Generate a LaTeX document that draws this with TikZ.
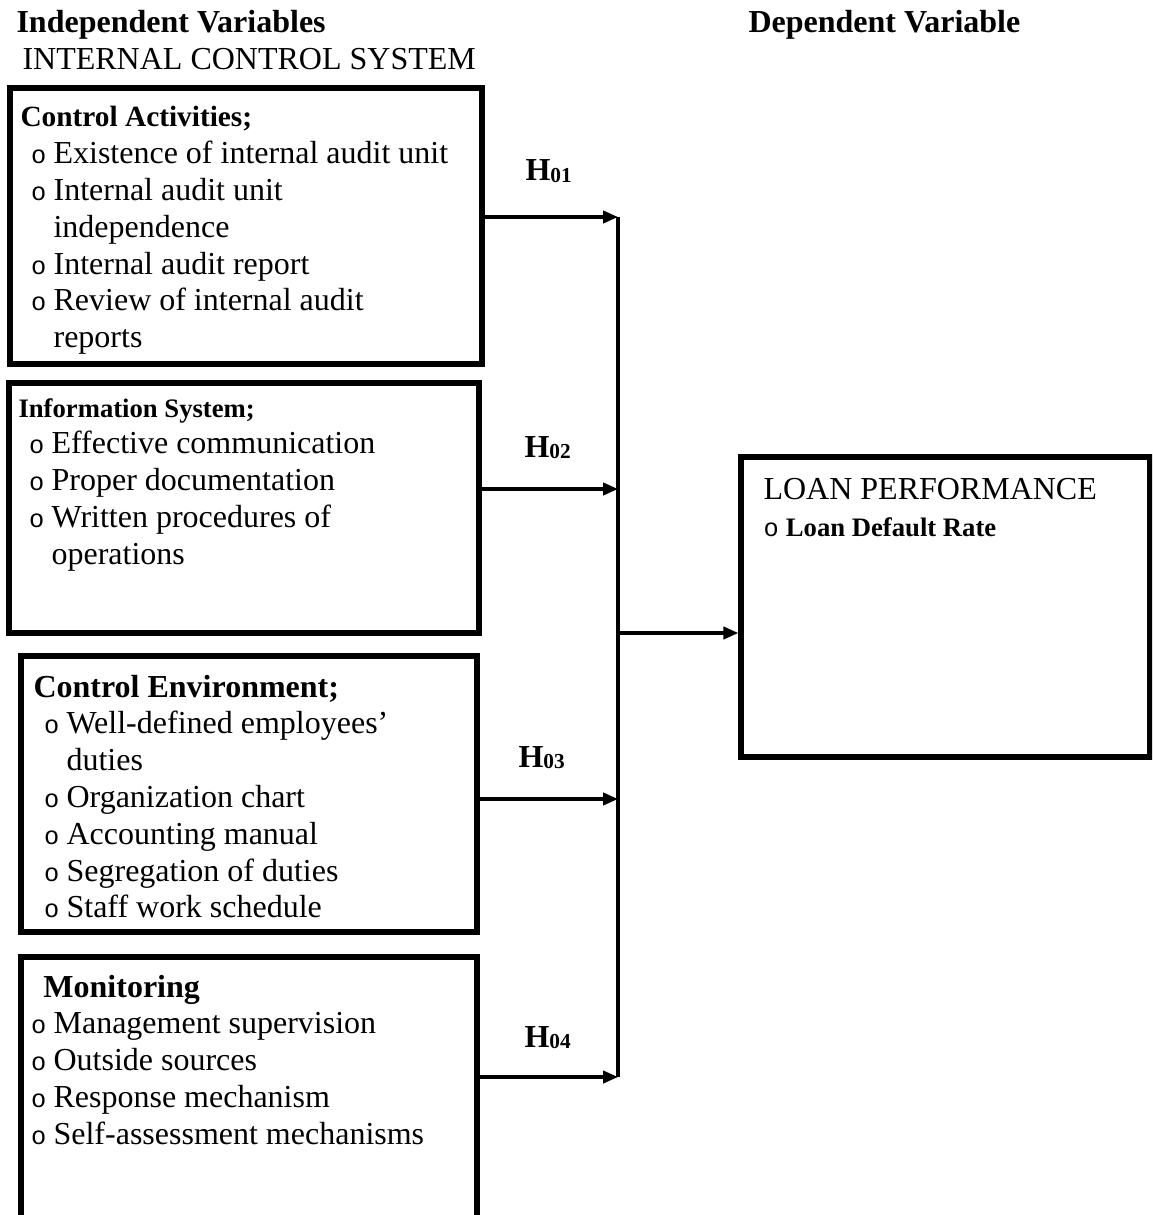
\documentclass[tikz,border=0pt]{standalone}
\usepackage{fontspec}
\setmainfont{Liberation Serif}
\newfontfamily\bulfont{Liberation Mono}
\usetikzlibrary{arrows.meta,fit}

\newcommand{\bul}{\makebox[8.4pt][l]{\bulfont\fontsize{9.5}{9}\selectfont o}}
\newcommand{\itm}[1]{\par\hspace*{4pt}\bul#1}
\newcommand{\cnt}[1]{\par\hspace*{12.4pt}#1}
\newcommand{\hyp}[1]{\textbf{H\raisebox{-0.5pt}{\fontsize{8}{8}\selectfont #1}}}

\tikzset{
  box/.style={draw, line width=2pt, inner sep=0pt},
  txt/.style={anchor=base west, inner sep=0pt, text width=175pt, align=flush left,
    font=\fontsize{12}{13.8}\selectfont},
  lbl/.style={anchor=base west, inner sep=0pt, font=\fontsize{12}{13.8}\selectfont},
  arr/.style={-{Triangle[length=5.6pt,width=4.6pt]}, line width=1.2pt},
  bus/.style={line width=1.5pt}
}

\begin{document}
\begin{tikzpicture}[x=0.375pt,y=-0.375pt]
            \clip (0,0) rectangle (1152,1215);

            % headings
            \node[lbl] (iv) at (16,33) {\bfseries Independent Variables};
            \node[lbl] (ics) at (22,70) {INTERNAL CONTROL SYSTEM};
            \node[lbl] (dv) at (748,33) {\bfseries Dependent Variable};

            % the four independent variables
            \node[box, fit={(10,88) (482,364)}] (ca) {};
            \node[txt] (ca-t) at (20,127) {{\fontsize{11}{13.8}\selectfont\bfseries Control Activities;}
                \itm{Existence of internal audit unit}
                \itm{Internal audit unit}
                \cnt{independence}
                \itm{Internal audit report}
                \itm{Review of internal audit}
                \cnt{reports}};

            \node[box, fit={(9,383) (479,633)}] (is) {};
            \node[txt] (is-t) at (18,417) {{\fontsize{10}{13.8}\selectfont\bfseries Information System;}
                \itm{Effective communication}
                \itm{Proper documentation}
                \itm{Written procedures of}
                \cnt{operations}};

            \node[box, fit={(21,656) (477,932)}] (ce) {};
            \node[txt] (ce-t) at (33,697) {{\bfseries Control Environment;}
                \itm{Well-defined employees’}
                \cnt{duties}
                \itm{Organization chart}
                \itm{Accounting manual}
                \itm{Segregation of duties}
                \itm{Staff work schedule}};

            \node[box, fit={(21,957) (477,1240)}] (mo) {};
            \node[txt] (mo-t) at (20,997) {\hspace*{8.6pt}{\bfseries Monitoring}
                \itm{Management supervision}
                \itm{Outside sources}
                \itm{Response mechanism}
                \itm{Self-assessment mechanisms}};

            % dependent variable
            \node[box, fit={(741,457) (1150,757)}] (lp) {};
            \node[txt, font=\fontsize{12}{14.2}\selectfont] (lp-t) at (763,499) {LOAN PERFORMANCE
                \par\bul{\fontsize{10}{14.2}\selectfont\bfseries Loan Default Rate}};

            % hypotheses
            \node[lbl] (h1) at (525,181) {\hyp{01}};
            \node[lbl] (h2) at (524,457) {\hyp{02}};
            \node[lbl] (h3) at (518,767) {\hyp{03}};
            \node[lbl] (h4) at (524,1047) {\hyp{04}};

            % collecting line
            \coordinate (j1) at (618,217);
            \coordinate (j2) at (618,489);
            \coordinate (j3) at (618,799);
            \coordinate (j4) at (618,1077);
            \coordinate (jl) at (618,633);
            \draw[bus] (j1) -- (j4);
            \foreach \b/\j in {ca/j1,is/j2,ce/j3,mo/j4}
                \draw[arr] (\b.east |- \j) -- (\j);
            \draw[arr] (jl) -- (jl -| lp.west);
\end{tikzpicture}
\end{document}
